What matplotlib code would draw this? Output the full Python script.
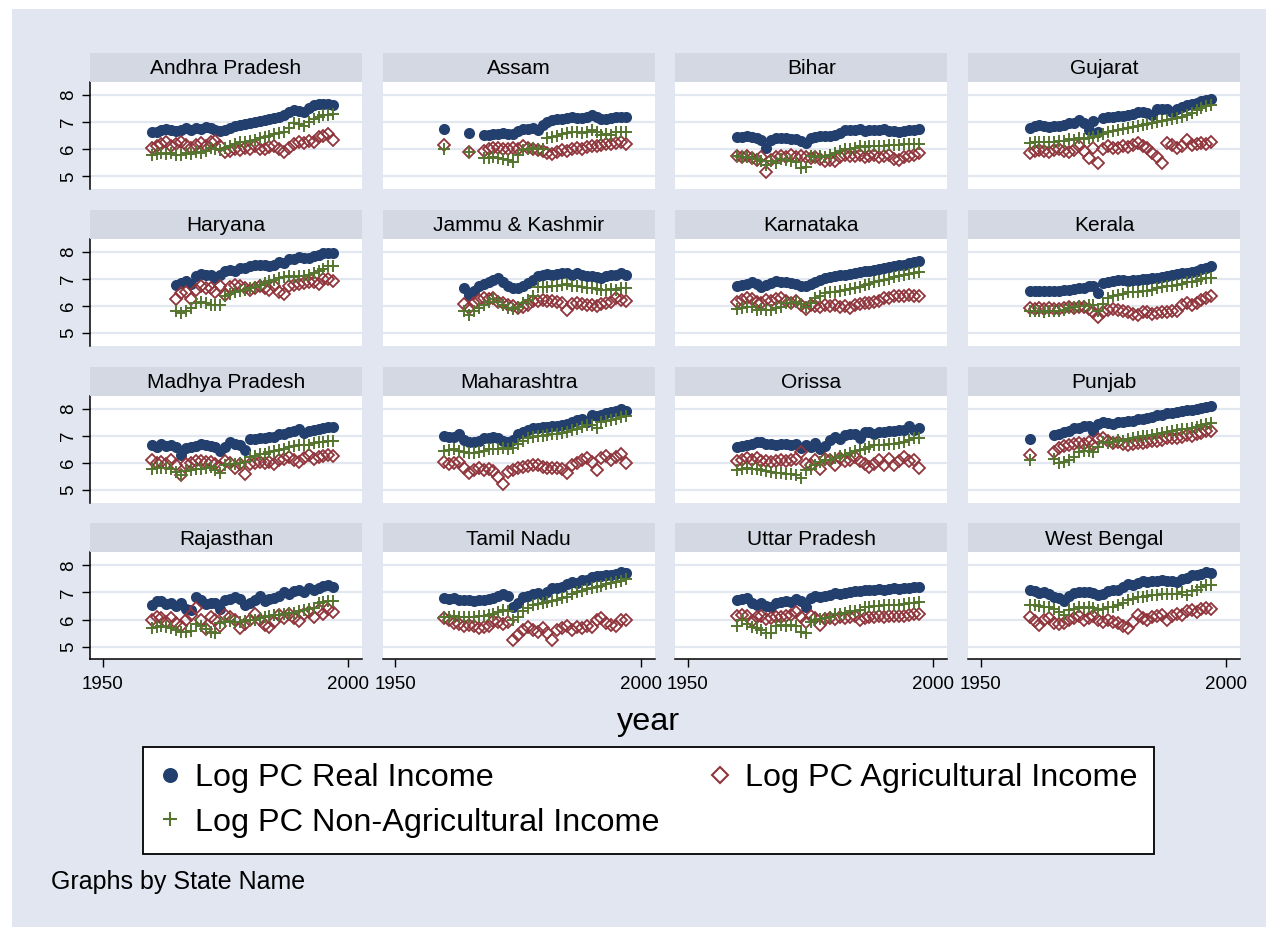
import numpy as np
import matplotlib
matplotlib.use('Agg')
import matplotlib.pyplot as plt
from matplotlib.lines import Line2D
from matplotlib.patches import Rectangle

plt.rcParams['font.family'] = ['Liberation Sans', 'DejaVu Sans']

n = np.nan
years = list(range(1960, 1998))

# valores (1960-1997), n = sem dado
# Andhra Pradesh
ap_real = [6.62, 6.65, 6.70, 6.75, 6.72, 6.68, 6.72, 6.78, 6.72, 6.80,
           6.76, 6.82, 6.78, 6.70, 6.68, 6.72, 6.78, 6.84, 6.88, 6.92,
           6.96, 7.00, 7.03, 7.06, 7.10, 7.14, 7.18, 7.26, 7.38, 7.45,
           7.40, 7.36, 7.52, 7.62, 7.66, 7.68, 7.66, 7.62]
ap_agri = [6.05, 6.12, 6.20, 6.25, 6.10, 6.18, 6.28, 6.15, 6.05, 6.15,
           6.22, 6.10, 6.25, 6.30, 6.10, 5.88, 5.95, 6.00, 5.98, 6.05,
           6.00, 6.10, 6.02, 6.00, 6.08, 6.12, 6.00, 5.90, 6.05, 6.18,
           6.28, 6.22, 6.30, 6.25, 6.45, 6.50, 6.55, 6.35]
ap_nonag = [5.78, 5.82, 5.85, 5.82, 5.85, 5.80, 5.78, 5.85, 5.82, 5.88,
            5.85, 5.95, 6.05, 6.00, 5.98, 6.05, 6.10, 6.20, 6.28, 6.25,
            6.30, 6.35, 6.40, 6.45, 6.50, 6.55, 6.60, 6.65, 6.80, 6.95,
            6.92, 6.85, 7.00, 7.10, 7.18, 7.25, 7.28, 7.30]

# Assam
as_real = [6.76, n, n, n, n, 6.60, n, n, 6.52, 6.54,
           6.55, 6.56, 6.58, 6.55, 6.56, 6.68, 6.76, 6.74, 6.78, 6.70,
           6.88, 7.00, 7.06, 7.12, 7.10, 7.15, 7.18, 7.14, 7.16, 7.18,
           7.25, 7.20, 7.13, 7.12, 7.16, 7.18, 7.20, 7.18]
as_agri = [6.17, n, n, n, n, 5.90, n, n, 5.92, 6.00,
           6.05, 6.05, 6.02, 6.00, 6.05, 6.02, 6.10, 6.05, 6.00, 5.98,
           5.92, 5.85, 5.82, 5.90, 5.98, 5.95, 6.00, 6.05, 6.02, 6.08,
           6.12, 6.10, 6.15, 6.20, 6.18, 6.22, 6.25, 6.20]
as_nonag = [6.02, n, n, n, n, 5.90, n, n, 5.68, 5.66,
            5.72, 5.66, 5.63, 5.60, 5.53, 5.80, 5.96, 6.02, 6.05, 6.00,
            6.02, 6.42, 6.45, 6.50, 6.55, 6.58, 6.62, 6.64, 6.58, 6.64,
            6.70, 6.62, 6.52, 6.55, 6.52, 6.62, 6.64, 6.62]

# Bihar
bi_real = [6.44, 6.46, 6.49, 6.44, 6.40, 6.35, 6.04, 6.35, 6.40, 6.42,
           6.40, 6.38, 6.36, 6.32, 6.22, 6.40, 6.44, 6.49, 6.48, 6.50,
           6.53, 6.60, 6.71, 6.70, 6.72, 6.73, 6.68, 6.69, 6.72, 6.70,
           6.73, 6.68, 6.66, 6.65, 6.68, 6.69, 6.70, 6.73]
bi_agri = [5.75, 5.72, 5.73, 5.68, 5.60, 5.72, 5.14, 5.60, 5.72, 5.75,
           5.70, 5.80, 5.72, 5.75, 5.70, 5.67, 5.72, 5.65, 5.55, 5.60,
           5.55, 5.70, 5.80, 5.75, 5.73, 5.78, 5.70, 5.75, 5.80, 5.72,
           5.73, 5.78, 5.65, 5.60, 5.70, 5.75, 5.80, 5.85]
bi_nonag = [5.75, 5.72, 5.70, 5.67, 5.62, 5.55, 5.42, 5.55, 5.50, 5.62,
            5.60, 5.58, 5.52, 5.30, 5.36, 5.73, 5.70, 5.75, 5.72, 5.80,
            5.87, 5.95, 6.00, 6.02, 6.05, 6.10, 6.08, 6.12, 6.10, 6.12,
            6.10, 6.14, 6.16, 6.15, 6.18, 6.20, 6.19, 6.20]

# Gujarat
gu_real = [6.77, 6.85, 6.90, 6.86, 6.83, 6.85, 6.84, 6.88, 6.95, 6.98,
           7.08, 6.95, 6.71, 7.05, 6.65, 7.14, 7.18, 7.20, 7.23, 7.22,
           7.26, 7.30, 7.39, 7.36, 7.33, 7.26, 7.47, 7.50, 7.48, 7.39,
           7.50, 7.55, 7.63, 7.66, 7.72, 7.78, 7.82, 7.84]
gu_agri = [5.85, 5.95, 5.98, 5.92, 5.91, 5.98, 6.00, 5.95, 5.91, 5.98,
           6.10, 5.95, 5.67, 6.05, 5.48, 6.00, 6.10, 6.05, 6.04, 6.10,
           6.08, 6.15, 6.22, 6.12, 6.05, 5.85, 5.70, 5.48, 6.22, 6.15,
           6.05, 6.10, 6.34, 6.16, 6.20, 6.22, 6.20, 6.25]
gu_nonag = [6.22, 6.25, 6.28, 6.26, 6.27, 6.28, 6.30, 6.32, 6.37, 6.35,
            6.40, 6.38, 6.42, 6.45, 6.49, 6.55, 6.65, 6.68, 6.71, 6.74,
            6.77, 6.82, 6.86, 6.90, 6.93, 6.98, 7.02, 7.05, 7.08, 7.10,
            7.14, 7.20, 7.26, 7.35, 7.45, 7.52, 7.60, 7.63]

# Haryana
ha_real = [n, n, n, n, n, 6.78, 6.85, 6.93, 6.80, 7.10,
           7.18, 7.16, 7.14, 7.03, 7.15, 7.28, 7.34, 7.30, 7.40, 7.42,
           7.47, 7.50, 7.53, 7.50, 7.48, 7.53, 7.63, 7.58, 7.72, 7.75,
           7.80, 7.78, 7.78, 7.85, 7.90, 7.96, 7.95, 7.94]
ha_agri = [n, n, n, n, n, 6.25, 6.48, 6.51, 6.25, 6.60,
           6.72, 6.66, 6.68, 6.51, 6.72, 6.41, 6.69, 6.78, 6.72, 6.65,
           6.60, 6.68, 6.72, 6.65, 6.60, 6.75, 6.51, 6.44, 6.72, 6.78,
           6.81, 6.85, 6.88, 6.90, 6.82, 7.00, 6.98, 6.93]
ha_nonag = [n, n, n, n, n, 5.82, 5.73, 5.82, 5.92, 6.10,
            6.15, 6.10, 6.04, 6.04, 6.04, 6.35, 6.45, 6.51, 6.55, 6.60,
            6.66, 6.70, 6.78, 6.85, 6.91, 6.96, 7.03, 7.06, 7.10, 7.08,
            7.10, 7.12, 7.16, 7.20, 7.28, 7.38, 7.47, 7.47]

# Jammu & Kashmir
jk_real = [n, n, n, n, 6.66, 6.41, 6.56, 6.72, 6.81, 6.88,
           6.97, 7.03, 6.90, 6.75, 6.68, 6.66, 6.72, 6.85, 6.95, 7.10,
           7.16, 7.18, 7.15, 7.18, 7.20, 7.22, 7.16, 7.20, 7.14, 7.12,
           7.10, 7.06, 7.03, 7.12, 7.14, 7.14, 7.20, 7.16]
jk_agri = [n, n, n, n, 6.06, 5.92, 6.10, 6.22, 6.29, 6.25,
           6.29, 6.16, 6.10, 6.04, 6.00, 5.92, 5.95, 6.04, 6.18, 6.20,
           6.22, 6.18, 6.20, 6.16, 6.12, 5.85, 6.06, 6.10, 6.08, 6.05,
           6.04, 6.00, 6.08, 6.10, 6.16, 6.29, 6.22, 6.18]
jk_nonag = [n, n, n, n, 5.82, 5.67, 5.80, 5.92, 6.04, 6.16,
            6.26, 6.16, 6.04, 5.92, 5.90, 5.95, 6.10, 6.22, 6.38, 6.69,
            6.69, 6.70, 6.72, 6.74, 6.78, 6.80, 6.75, 6.72, 6.70, 6.68,
            6.66, 6.62, 6.60, 6.58, 6.62, 6.60, 6.65, 6.66]

# Karnataka
ka_real = [6.72, 6.76, 6.81, 6.88, 6.80, 6.69, 6.78, 6.85, 6.93, 6.90,
           6.88, 6.85, 6.80, 6.75, 6.72, 6.82, 6.90, 6.96, 7.02, 7.06,
           7.12, 7.14, 7.16, 7.18, 7.22, 7.25, 7.28, 7.30, 7.34, 7.38,
           7.41, 7.44, 7.47, 7.50, 7.53, 7.58, 7.63, 7.65]
ka_agri = [6.14, 6.22, 6.31, 6.25, 6.15, 6.10, 6.22, 6.18, 6.26, 6.30,
           6.20, 6.10, 6.18, 6.02, 5.90, 6.05, 6.00, 5.95, 6.02, 6.00,
           6.02, 5.98, 6.00, 5.92, 6.05, 6.08, 6.10, 6.12, 6.15, 6.18,
           6.29, 6.30, 6.35, 6.35, 6.38, 6.40, 6.38, 6.38]
ka_nonag = [5.89, 5.92, 5.98, 5.95, 5.85, 5.88, 5.84, 5.86, 5.92, 5.98,
            6.10, 6.12, 6.16, 6.08, 5.95, 6.10, 6.30, 6.38, 6.48, 6.50,
            6.51, 6.55, 6.60, 6.62, 6.66, 6.70, 6.78, 6.82, 6.88, 6.92,
            6.97, 7.00, 7.06, 7.10, 7.13, 7.18, 7.22, 7.24]

# Kerala
ke_real = [6.54, 6.55, 6.54, 6.56, 6.55, 6.54, 6.56, 6.58, 6.60, 6.62,
           6.66, 6.68, 6.72, 6.74, 6.48, 6.85, 6.88, 6.93, 6.95, 6.97,
           6.94, 6.96, 6.97, 6.98, 7.00, 7.02, 7.04, 7.06, 7.10, 7.14,
           7.18, 7.20, 7.22, 7.26, 7.30, 7.36, 7.41, 7.49]
ke_agri = [5.92, 5.88, 5.92, 5.90, 5.92, 5.88, 5.90, 5.92, 5.98, 5.94,
           5.98, 5.95, 5.88, 5.79, 5.60, 5.79, 5.85, 5.88, 5.86, 5.80,
           5.78, 5.72, 5.67, 5.76, 5.78, 5.72, 5.74, 5.78, 5.79, 5.80,
           5.82, 6.02, 6.12, 6.02, 6.10, 6.22, 6.28, 6.38]
ke_nonag = [5.80, 5.80, 5.82, 5.78, 5.80, 5.82, 5.80, 5.84, 5.92, 5.95,
            6.00, 6.00, 6.02, 6.05, 5.80, 6.08, 6.29, 6.35, 6.41, 6.45,
            6.51, 6.53, 6.52, 6.54, 6.56, 6.60, 6.66, 6.69, 6.72, 6.75,
            6.78, 6.82, 6.88, 6.90, 6.92, 6.98, 7.03, 7.05]

# Madhya Pradesh
mp_real = [6.65, 6.60, 6.68, 6.62, 6.66, 6.60, 6.29, 6.53, 6.59, 6.62,
           6.71, 6.66, 6.62, 6.58, 6.43, 6.58, 6.75, 6.70, 6.66, 6.47,
           6.87, 6.88, 6.90, 6.92, 6.94, 6.96, 7.05, 7.08, 7.14, 7.18,
           7.24, 7.10, 7.16, 7.22, 7.25, 7.29, 7.31, 7.33]
mp_agri = [6.10, 6.00, 6.04, 5.94, 6.10, 5.92, 5.55, 5.95, 6.00, 6.05,
           6.08, 6.02, 6.04, 5.94, 5.85, 6.06, 5.98, 5.82, 5.95, 5.58,
           5.95, 6.00, 6.02, 5.98, 6.04, 5.94, 6.10, 6.15, 6.22, 6.12,
           6.04, 6.18, 6.29, 6.15, 6.22, 6.25, 6.29, 6.26]
mp_nonag = [5.77, 5.80, 5.79, 5.82, 5.77, 5.67, 5.55, 5.70, 5.72, 5.76,
            5.78, 5.82, 5.84, 5.75, 5.62, 5.92, 5.94, 5.95, 6.00, 6.02,
            6.22, 6.26, 6.31, 6.34, 6.38, 6.42, 6.47, 6.52, 6.59, 6.62,
            6.65, 6.66, 6.66, 6.72, 6.75, 6.78, 6.80, 6.80]

# Maharashtra
mh_real = [6.98, 6.96, 6.97, 7.05, 6.84, 6.75, 6.76, 6.80, 6.90, 6.92,
           6.94, 6.92, 6.80, 6.78, 6.85, 7.05, 7.14, 7.22, 7.28, 7.30,
           7.33, 7.32, 7.34, 7.36, 7.39, 7.45, 7.51, 7.58, 7.63, 7.51,
           7.76, 7.74, 7.78, 7.82, 7.88, 7.92, 7.98, 7.90]
mh_agri = [6.04, 5.94, 5.98, 6.04, 5.80, 5.61, 5.72, 5.80, 5.74, 5.78,
           5.70, 5.49, 5.21, 5.67, 5.74, 5.80, 5.84, 5.88, 5.92, 5.90,
           5.85, 5.82, 5.80, 5.82, 5.78, 5.61, 5.90, 6.00, 6.10, 6.16,
           6.04, 5.74, 6.16, 6.26, 6.12, 6.22, 6.31, 5.98]
mh_nonag = [6.43, 6.47, 6.50, 6.45, 6.38, 6.36, 6.35, 6.40, 6.45, 6.50,
            6.52, 6.50, 6.55, 6.50, 6.55, 6.70, 6.80, 6.90, 6.96, 6.98,
            7.00, 7.02, 7.05, 7.08, 7.10, 7.15, 7.20, 7.26, 7.33, 7.38,
            7.41, 7.30, 7.51, 7.54, 7.57, 7.63, 7.69, 7.73]

# Orissa
or_real = [6.59, 6.62, 6.65, 6.68, 6.75, 6.78, 6.70, 6.68, 6.66, 6.68,
           6.70, 6.64, 6.70, 6.56, 6.66, 6.60, 6.72, 6.52, 6.62, 6.84,
           6.96, 6.88, 7.02, 7.05, 7.08, 6.90, 7.14, 7.12, 7.08, 7.12,
           7.14, 7.16, 7.18, 7.20, 7.22, 7.36, 7.20, 7.27]
or_agri = [6.07, 6.12, 6.16, 6.10, 6.16, 6.08, 6.05, 6.02, 6.08, 6.12,
           6.05, 6.10, 6.15, 6.38, 5.95, 5.92, 6.10, 5.77, 6.15, 6.10,
           5.92, 6.18, 6.05, 6.12, 6.22, 6.05, 5.95, 5.86, 5.95, 6.10,
           5.92, 6.15, 5.92, 6.08, 6.22, 6.05, 6.10, 5.80]
or_nonag = [5.74, 5.78, 5.80, 5.77, 5.78, 5.72, 5.68, 5.65, 5.61, 5.63,
            5.58, 5.60, 5.55, 5.45, 5.72, 5.77, 5.92, 6.04, 6.10, 6.12,
            6.16, 6.24, 6.30, 6.35, 6.43, 6.46, 6.50, 6.58, 6.65, 6.66,
            6.67, 6.68, 6.71, 6.74, 6.78, 6.85, 6.92, 6.90]

# Punjab
pb_real = [6.87, n, n, n, n, 7.02, 7.08, 7.14, 7.18, 7.27,
           7.30, 7.36, 7.34, 7.17, 7.45, 7.51, 7.48, 7.44, 7.50, 7.52,
           7.53, 7.56, 7.61, 7.63, 7.66, 7.70, 7.76, 7.78, 7.82, 7.85,
           7.88, 7.90, 7.94, 7.96, 8.00, 8.03, 8.06, 8.08]
pb_agri = [6.29, n, n, n, n, 6.38, 6.53, 6.63, 6.66, 6.71,
           6.74, 6.71, 6.76, 6.66, 6.87, 6.92, 6.80, 6.74, 6.78, 6.71,
           6.65, 6.70, 6.74, 6.72, 6.76, 6.80, 6.82, 6.85, 6.92, 6.90,
           6.92, 6.96, 7.02, 7.00, 7.06, 7.10, 7.17, 7.17]
pb_nonag = [6.10, n, n, n, n, 6.14, 5.98, 6.04, 6.10, 6.22,
            6.41, 6.45, 6.42, 6.38, 6.60, 6.75, 6.72, 6.78, 6.84, 6.82,
            6.86, 6.90, 6.96, 6.98, 7.00, 7.04, 7.08, 7.10, 7.12, 7.16,
            7.20, 7.24, 7.26, 7.30, 7.33, 7.40, 7.45, 7.47]

# Rajasthan
rj_real = [6.54, 6.67, 6.70, 6.56, 6.62, 6.51, 6.60, 6.38, 6.36, 6.83,
           6.73, 6.56, 6.62, 6.60, 6.38, 6.73, 6.76, 6.83, 6.76, 6.54,
           6.62, 6.73, 6.88, 6.70, 6.75, 6.78, 6.88, 7.00, 6.95, 7.07,
           7.10, 7.00, 7.16, 7.10, 7.16, 7.25, 7.28, 7.22]
rj_agri = [5.98, 6.10, 6.04, 5.92, 6.04, 5.86, 5.75, 5.98, 6.16, 6.41,
           5.98, 5.65, 6.10, 5.98, 5.75, 6.16, 6.10, 5.98, 5.70, 5.85,
           5.98, 6.22, 5.98, 5.80, 5.73, 5.92, 6.16, 6.04, 6.22, 6.04,
           5.95, 6.22, 6.28, 6.10, 6.35, 6.22, 6.38, 6.28]
rj_nonag = [5.70, 5.74, 5.78, 5.72, 5.68, 5.62, 5.55, 5.55, 5.56, 5.85,
            5.76, 5.65, 5.55, 5.49, 5.88, 5.90, 5.94, 5.92, 5.90, 5.95,
            5.98, 6.00, 6.04, 6.10, 6.12, 6.16, 6.18, 6.22, 6.24, 6.26,
            6.30, 6.34, 6.38, 6.42, 6.60, 6.65, 6.67, 6.67]

# Tamil Nadu
tn_real = [6.79, 6.75, 6.78, 6.73, 6.72, 6.74, 6.70, 6.72, 6.72, 6.75,
           6.80, 6.86, 6.95, 6.88, 6.46, 6.63, 6.82, 6.88, 6.95, 6.98,
           6.92, 7.00, 7.16, 7.18, 7.22, 7.32, 7.38, 7.35, 7.47, 7.45,
           7.59, 7.60, 7.62, 7.63, 7.65, 7.70, 7.74, 7.72]
tn_agri = [6.04, 6.00, 5.88, 5.85, 5.75, 5.80, 5.75, 5.68, 5.72, 5.78,
           5.95, 5.92, 5.85, 5.90, 5.25, 5.43, 5.62, 5.73, 5.60, 5.55,
           5.68, 5.50, 5.25, 5.62, 5.70, 5.75, 5.62, 5.72, 5.70, 5.75,
           5.72, 6.00, 6.05, 5.88, 5.80, 5.78, 6.00, 6.00]
tn_nonag = [6.10, 6.08, 6.12, 6.10, 6.10, 6.08, 6.10, 6.12, 6.14, 6.18,
            6.22, 6.28, 6.35, 6.32, 6.00, 6.10, 6.30, 6.44, 6.53, 6.58,
            6.63, 6.66, 6.70, 6.74, 6.78, 6.85, 6.95, 7.00, 7.07, 7.12,
            7.16, 7.20, 7.25, 7.30, 7.35, 7.40, 7.44, 7.49]

# Uttar Pradesh
up_real = [6.73, 6.76, 6.79, 6.60, 6.55, 6.60, 6.51, 6.48, 6.60, 6.65,
           6.70, 6.65, 6.75, 6.68, 6.46, 6.80, 6.86, 6.82, 6.86, 6.92,
           6.97, 6.95, 6.98, 7.00, 7.06, 7.04, 7.08, 7.10, 7.09, 7.12,
           7.10, 7.12, 7.16, 7.14, 7.16, 7.18, 7.22, 7.20]
up_agri = [6.12, 6.18, 6.15, 5.96, 6.08, 6.12, 6.02, 6.05, 6.10, 6.08,
           6.12, 6.18, 6.28, 6.10, 5.90, 6.15, 6.05, 5.79, 6.02, 6.05,
           6.02, 6.10, 6.05, 6.08, 6.12, 6.00, 6.05, 6.10, 6.08, 6.12,
           6.10, 6.15, 6.12, 6.15, 6.15, 6.18, 6.20, 6.22]
up_nonag = [5.78, 5.98, 5.85, 5.72, 5.68, 5.60, 5.49, 5.50, 5.78, 5.80,
            5.78, 5.80, 5.76, 5.55, 5.52, 5.90, 6.00, 6.02, 6.04, 6.10,
            6.22, 6.20, 6.26, 6.30, 6.32, 6.36, 6.46, 6.48, 6.50, 6.51,
            6.52, 6.53, 6.53, 6.55, 6.58, 6.60, 6.62, 6.66]

# West Bengal
wb_real = [7.10, 7.04, 6.98, 7.02, 6.96, 6.85, 6.78, 6.70, 6.88, 6.98,
           7.03, 7.02, 7.00, 6.98, 6.90, 6.96, 7.05, 7.10, 7.08, 7.20,
           7.32, 7.28, 7.36, 7.42, 7.38, 7.44, 7.42, 7.46, 7.42, 7.42,
           7.40, 7.50, 7.54, 7.65, 7.65, 7.70, 7.74, 7.72]
wb_agri = [6.10, 5.95, 5.79, 5.98, 6.04, 5.86, 5.83, 5.88, 5.98, 6.04,
           6.12, 5.98, 6.04, 6.12, 5.98, 5.92, 6.00, 5.92, 5.86, 5.75,
           5.68, 5.92, 6.16, 6.06, 5.98, 6.10, 6.12, 6.16, 6.00, 6.12,
           6.22, 6.16, 6.32, 6.36, 6.28, 6.40, 6.44, 6.38]
wb_nonag = [6.53, 6.52, 6.50, 6.48, 6.45, 6.40, 6.28, 6.16, 6.35, 6.40,
            6.45, 6.42, 6.46, 6.44, 6.35, 6.40, 6.46, 6.48, 6.53, 6.60,
            6.72, 6.76, 6.82, 6.85, 6.88, 6.90, 6.92, 6.94, 6.95, 6.95,
            6.95, 7.00, 6.92, 7.05, 7.10, 7.22, 7.28, 7.28]

states = ['Andhra Pradesh', 'Assam', 'Bihar', 'Gujarat',
          'Haryana', 'Jammu & Kashmir', 'Karnataka', 'Kerala',
          'Madhya Pradesh', 'Maharashtra', 'Orissa', 'Punjab',
          'Rajasthan', 'Tamil Nadu', 'Uttar Pradesh', 'West Bengal']
real = [ap_real, as_real, bi_real, gu_real, ha_real, jk_real, ka_real, ke_real,
        mp_real, mh_real, or_real, pb_real, rj_real, tn_real, up_real, wb_real]
agri = [ap_agri, as_agri, bi_agri, gu_agri, ha_agri, jk_agri, ka_agri, ke_agri,
        mp_agri, mh_agri, or_agri, pb_agri, rj_agri, tn_agri, up_agri, wb_agri]
nonag = [ap_nonag, as_nonag, bi_nonag, gu_nonag, ha_nonag, jk_nonag, ka_nonag, ke_nonag,
         mp_nonag, mh_nonag, or_nonag, pb_nonag, rj_nonag, tn_nonag, up_nonag, wb_nonag]

# Cores
BG = '#e1e6f0'
STRIP = '#d3d8e3'
GRID = '#e3e7f0'
NAVY = '#223f6e'
MAROON = '#90353b'
GREEN = '#55752f'

W, H = 1266, 927
fig = plt.figure(figsize=(W / 100, H / 100), dpi=100, facecolor='white')
fig.patches.append(Rectangle((12 / W, 0), 1 - 12 / W, 1 - 9 / H, transform=fig.transFigure,
                             facecolor=BG, edgecolor='none', zorder=-10))

col_x = [90, 382.7, 675.3, 968]
pw, ph, sh = 272, 107, 29

for k, st in enumerate(states):
    r, c = divmod(k, 4)
    top = 82 + r * 156.8
    ax = fig.add_axes([col_x[c] / W, 1 - (top + ph) / H, pw / W, ph / H])
    sax = fig.add_axes([col_x[c] / W, 1 - top / H, pw / W, sh / H])

    # faixa do titulo
    sax.set_facecolor(STRIP)
    sax.set_xticks([])
    sax.set_yticks([])
    for s in sax.spines.values():
        s.set_visible(False)
    sax.text(0.5, 0.45, st, ha='center', va='center', fontsize=15, transform=sax.transAxes)

    ax.plot(years, real[k], 'o', ls='none', ms=8, mew=0, color=NAVY, zorder=3)
    ax.plot(years, agri[k], 'D', ls='none', ms=5.8, mew=1.3, mfc='none', color=MAROON, zorder=4)
    ax.plot(years, nonag[k], '+', ls='none', ms=8.5, mew=1.4, color=GREEN, zorder=5)

    ax.set_xlim(1947.45, 2002.85)
    ax.set_ylim(4.53, 8.48)
    ax.set_yticks([5, 6, 7, 8])
    ax.set_xticks([1950, 2000])
    ax.grid(axis='y', color=GRID, lw=1.6)
    ax.set_axisbelow(True)
    for s in ['top', 'right']:
        ax.spines[s].set_visible(False)

    if c == 0:
        ax.spines['left'].set_linewidth(1.1)
        ax.tick_params(axis='y', length=6, width=1, pad=3, labelsize=13.5, labelrotation=90)
        for lab in ax.get_yticklabels():
            lab.set_va('center')
    else:
        ax.spines['left'].set_visible(False)
        ax.tick_params(axis='y', left=False, labelleft=False)

    if r == 3:
        ax.spines['bottom'].set_linewidth(1.1)
        ax.tick_params(axis='x', length=6, width=1, pad=6, labelsize=13.5)
    else:
        ax.spines['bottom'].set_visible(False)
        ax.tick_params(axis='x', bottom=False, labelbottom=False)

fig.text(649 / W, 1 - 722 / H, 'year', ha='center', va='center', fontsize=23.3)

h_real = Line2D([], [], marker='o', ls='none', ms=10.8, mew=0, color=NAVY)
h_agri = Line2D([], [], marker='D', ls='none', ms=8.5, mew=1.5, mfc='none', color=MAROON)
h_nonag = Line2D([], [], marker='+', ls='none', ms=9.5, mew=1.5, color=GREEN)
leg = fig.legend([h_real, h_nonag, h_agri],
                 ['Log PC Real Income', 'Log PC Non-Agricultural Income', 'Log PC Agricultural Income'],
                 ncol=2, loc='upper left',
                 bbox_to_anchor=(143 / W, 1 - 853 / H, (1154 - 143) / W, (853 - 747) / H),
                 mode='expand', borderaxespad=0, fontsize=23.3, frameon=True, fancybox=False,
                 edgecolor='black', handlelength=0.65, handletextpad=0.45, labelspacing=0.45,
                 borderpad=0.5, columnspacing=1.0)
leg.get_frame().set_linewidth(1.3)
leg.get_frame().set_facecolor('white')
leg.get_frame().set_alpha(None)

fig.text(51 / W, 1 - 882 / H, 'Graphs by State Name', ha='left', va='center', fontsize=18)

fig.savefig('out.png', dpi=100, facecolor=fig.get_facecolor())
